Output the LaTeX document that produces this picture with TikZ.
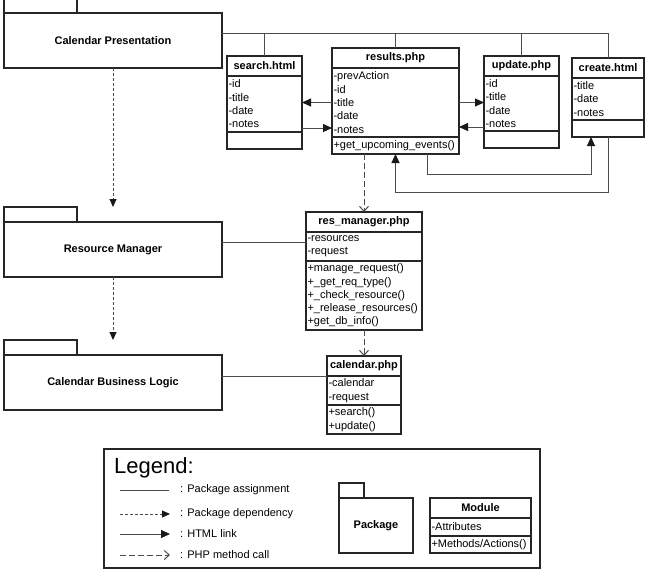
\documentclass[tikz,border=0pt]{standalone}
\usepackage{fontspec}
\setmainfont{Liberation Sans}
\usepackage{tikz}
\usetikzlibrary{calc}
\usetikzlibrary{arrows.meta}
\usetikzlibrary{positioning}
\tikzset{box/.style={draw=black!85,line width=1.1pt,inner sep=0pt,outer sep=0pt,anchor=north west,font=\fontsize{11}{13.3}\selectfont}}
\tikzset{pkg/.style={box,minimum width=#1,minimum height=55pt,font=\fontsize{11}{13.3}\selectfont\bfseries}}
\tikzset{tab/.style={box,minimum width=#1,minimum height=15pt,anchor=south west}}
\tikzset{head/.style={box,minimum width=#1,minimum height=20pt,font=\fontsize{11}{13.3}\selectfont\bfseries}}
\tikzset{attr/.style={box,anchor=north,text width=#1,inner xsep=1.5pt,align=left}}
\tikzset{conn/.style={draw=black!70,line width=1pt}}
\tikzset{html/.style={conn,-{Triangle[length=9pt,width=8pt,color=black!90]}}}
\tikzset{dep/.style={conn,dash pattern=on 3pt off 2pt,-{Triangle[length=8pt,width=7pt,color=black!90]}}}
\tikzset{call/.style={conn,dash pattern=on 6pt off 3pt,-{Straight Barb[length=5pt,width=9pt]}}}

\begin{document}
\begin{tikzpicture}[x=1pt,y=-1pt]
\clip (0,0) rectangle (646,574);

% packages
\node[pkg=218] (pres) at (4,13) {Calendar Presentation};
\node[tab=73] (presTab) at (pres.north west) {};
\node[pkg=218] (resm) at (4,222) {Resource Manager};
\node[tab=73] (resmTab) at (resm.north west) {};
\node[pkg=218] (logic) at (4,355) {Calendar Business Logic};
\node[tab=73] (logicTab) at (logic.north west) {};

% modules
\node[head=75] (search) at (227,56) {search.html};
\node[attr=72,minimum height=56pt,below=0pt of search] (searchA) {-id\\-title\\-date\\-notes};
\node[attr=72,minimum height=17pt,below=0pt of searchA] (searchM) {};

\node[head=127] (results) at (332,48) {results.php};
\node[attr=124,minimum height=69pt,below=0pt of results] (resultsA) {-prevAction\\-id\\-title\\-date\\-notes};
\node[attr=124,minimum height=17pt,below=0pt of resultsA] (resultsM) {+get\_upcoming\_events()};

\node[head=75] (update) at (484,56) {update.php};
\node[attr=72,minimum height=55pt,below=0pt of update] (updateA) {-id\\-title\\-date\\-notes};
\node[attr=72,minimum height=17pt,below=0pt of updateA] (updateM) {};

\node[head=72] (create) at (572,58) {create.html};
\node[attr=69,minimum height=42pt,below=0pt of create] (createA) {-title\\-date\\-notes};
\node[attr=69,minimum height=17pt,below=0pt of createA] (createM) {};

\node[head=116] (resmgr) at (306,212) {res\_manager.php};
\node[attr=113,minimum height=29pt,below=0pt of resmgr] (resmgrA) {-resources\\-request};
\node[attr=113,minimum height=69pt,below=0pt of resmgrA] (resmgrM) {+manage\_request()\\+\_get\_req\_type()\\+\_check\_resource()\\+\_release\_resources()\\+get\_db\_info()};

\node[head=74] (cal) at (327,356) {calendar.php};
\node[attr=71,minimum height=29pt,below=0pt of cal] (calA) {-calendar\\-request};
\node[attr=71,minimum height=29pt,below=0pt of calA] (calM) {+search()\\+update()};

% package assignment
\coordinate (bus) at ([yshift=7.5pt]pres.east);
\draw[conn] (bus) -| (create.north);
\draw[conn] (search.north) -- (search.north |- bus);
\draw[conn] (results.north) -- (results.north |- bus);
\draw[conn] (update.north) -- (update.north |- bus);
\draw[conn] ([yshift=4.5pt]resmgrA.west) -- ([yshift=4.5pt]resmgrA.west -| resm.east);
\draw[conn] (calA.north west) -- (calA.north west -| logic.east);

% package dependency
\draw[dep] (pres.south) -- (resmTab.north -| resm.north);
\draw[dep] (resm.south) -- (logicTab.north -| logic.north);

% html links
\draw[html] (resultsA.west) -- (resultsA.west -| searchA.east);
\draw[html] ([yshift=4pt]searchA.south east) -- ([yshift=4pt]searchA.south east -| resultsA.west);
\draw[html] (resultsA.east) -- (resultsA.east -| updateA.west);
\draw[html] ([yshift=4pt]updateA.south west) -- ([yshift=4pt]updateA.south west -| resultsA.east);
\draw[html] ([xshift=-32pt]resultsM.south east) -- ++(0,20) -| ([xshift=19pt]createM.south west);
\draw[html] (createM.south) -- ++(0,55) -| (resultsM.south);

% php method calls
\draw[call] (resmgr.north |- resultsM.south) -- (resmgr.north);
\draw[call] (resmgrM.south) -- (cal.north);

% legend
\node[box,minimum width=436pt,minimum height=119pt] (legend) at (104,449) {};
\node[anchor=west,inner sep=0pt,font=\fontsize{22}{24}\selectfont] (lgTitle) at (114,468) {Legend:};
\node[anchor=west,inner sep=0pt,font=\fontsize{11}{13}\selectfont] (lgAssign) at (180,490) {: Package assignment};
\node[anchor=west,inner sep=0pt,font=\fontsize{11}{13}\selectfont] (lgDep) at (180,514) {: Package dependency};
\node[anchor=west,inner sep=0pt,font=\fontsize{11}{13}\selectfont] (lgHtml) at (180,534) {: HTML link};
\node[anchor=west,inner sep=0pt,font=\fontsize{11}{13}\selectfont] (lgCall) at (180,555) {: PHP method call};
\draw[conn] ([xshift=-60pt]lgAssign.west) -- ([xshift=-11pt]lgAssign.west);
\draw[dep] ([xshift=-60pt]lgDep.west) -- ([xshift=-10pt]lgDep.west);
\draw[html] ([xshift=-60pt]lgHtml.west) -- ([xshift=-10pt]lgHtml.west);
\draw[call] ([xshift=-60pt]lgCall.west) -- ([xshift=-10pt]lgCall.west);

\node[box,minimum width=74pt,minimum height=55pt,font=\fontsize{11}{13.3}\selectfont\bfseries] (lgPkg) at (339,498) {Package};
\node[tab=25] (lgPkgTab) at (lgPkg.north west) {};
\node[head=101] (lgMod) at (430,498) {Module};
\node[attr=98,minimum height=18pt,below=0pt of lgMod] (lgModA) {-Attributes};
\node[attr=98,minimum height=17pt,below=0pt of lgModA] (lgModM) {+Methods/Actions()};

\end{tikzpicture}
\end{document}
